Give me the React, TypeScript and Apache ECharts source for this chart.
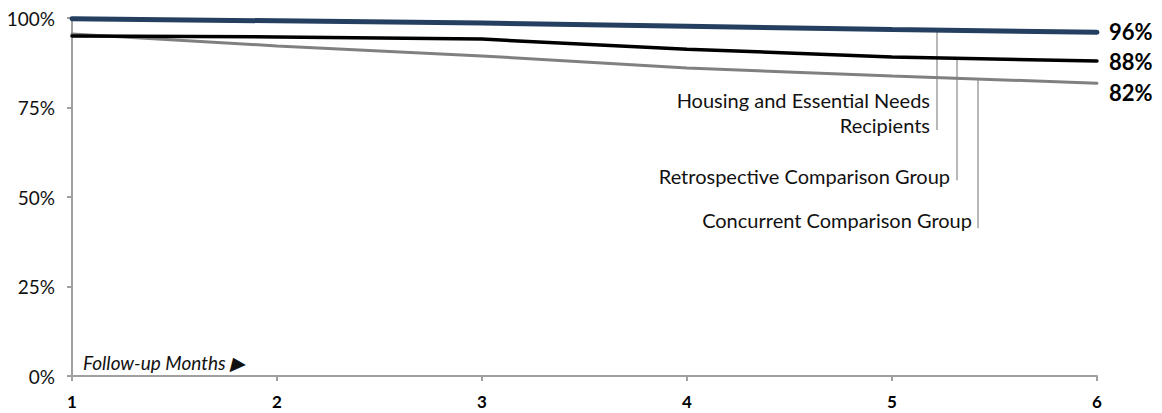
import React, { useEffect, useRef } from "react";
import * as echarts from "echarts";

const months = [1, 2, 3, 4, 5, 6];
const yTicks = [0, 25, 50, 75, 100];
const hensValues = [99.8, 99.2, 98.6, 97.7, 96.8, 96.0];
const retroValues = [95.0, 94.7, 94.1, 91.3, 89.1, 88.0];
const concValues = [95.5, 92.2, 89.4, 86.0, 83.8, 81.8];
const endLabels = ["96%", "88%", "82%"];
const seriesNames = [
  "Housing and Essential Needs Recipients",
  "Retrospective Comparison Group",
  "Concurrent Comparison Group",
];
// leader lines: [x position (month), top value, bottom value]
const leaders: [number, number, number][] = [
  [5.22, 96.6, 68.7],
  [5.317, 88.75, 54.7],
  [5.42, 82.96, 41.3],
];

const FONT = "Lato, 'Open Sans', sans-serif";

export default function App() {
  const ref = useRef<HTMLDivElement>(null);
  useEffect(() => {
    if (!ref.current) return;
    const chart = echarts.init(ref.current, undefined, { renderer: "svg" });
    const colors = ["#243f60", "#000000", "#808080"];
    const widths = [5, 3.5, 3];
    const values = [hensValues, retroValues, concValues];
    const labelOffsets = [[0, -1], [0, 1], [0, 9]];
    const annText = (text: string, x: number, y: number) => ({
      type: "text",
      x,
      y,
      style: {
        text,
        align: "right",
        verticalAlign: "middle",
        fontSize: 20,
        fontFamily: FONT,
        fill: "#111",
      },
    });
    chart.setOption({
      animation: false,
      textStyle: { fontFamily: FONT },
      grid: { left: 72, right: 65, top: 18, bottom: 37, containLabel: false },
      xAxis: {
        type: "value",
        min: 1,
        max: 6,
        interval: 1,
        axisLine: { show: true, lineStyle: { color: "#a0a0a0", width: 2 } },
        axisTick: { show: true, length: 5, lineStyle: { color: "#a0a0a0", width: 2 } },
        splitLine: { show: false },
        axisLabel: {
          color: "#000",
          fontWeight: "bold",
          fontSize: 17,
          fontFamily: FONT,
          margin: 16,
          lineHeight: 18,
        },
      },
      yAxis: {
        type: "value",
        min: 0,
        max: 100,
        interval: 25,
        axisLine: { show: true, lineStyle: { color: "#a0a0a0", width: 2 } },
        axisTick: { show: true, length: 5, lineStyle: { color: "#a0a0a0", width: 2 } },
        splitLine: { show: false },
        axisLabel: {
          color: "#111",
          fontSize: 19,
          fontFamily: FONT,
          margin: 17,
          formatter: (v: number) => (yTicks.includes(v) ? v + "%" : ""),
        },
      },
      series: values.map((vals, i) => ({
        type: "line",
        name: seriesNames[i],
        data: months.map((m, j) => [m, vals[j]]),
        showSymbol: false,
        symbol: "none",
        lineStyle: { color: colors[i], width: widths[i], cap: "round" },
        z: 10 - i,
        endLabel: {
          show: true,
          formatter: () => endLabels[i],
          color: "#000",
          fontWeight: "bold",
          fontSize: 22,
          fontFamily: FONT,
          distance: 12,
          offset: labelOffsets[i],
        },
        markLine: {
          silent: true,
          symbol: "none",
          label: { show: false },
          lineStyle: { color: "#a0a0a0", width: 1.5, type: "solid" },
          data: [
            [
              { coord: [leaders[i][0], leaders[i][1]] },
              { coord: [leaders[i][0], leaders[i][2]] },
            ],
          ],
        },
      })),
      graphic: [
        annText("Housing and Essential Needs", 930, 100),
        annText("Recipients", 930, 125),
        annText("Retrospective Comparison Group", 950, 176),
        annText("Concurrent Comparison Group", 972, 220),
        {
          type: "text",
          x: 83,
          y: 362,
          style: {
            text: "Follow-up Months \u25B6",
            verticalAlign: "middle",
            fontSize: 19,
            fontStyle: "italic",
            fontFamily: FONT,
            fill: "#111",
          },
        },
      ],
    });
    return () => chart.dispose();
  }, []);
  return (
    <div
      ref={ref}
      style={{ position: "absolute", left: 0, top: 0, width: 1162, height: 413 }}
    />
  );
}
